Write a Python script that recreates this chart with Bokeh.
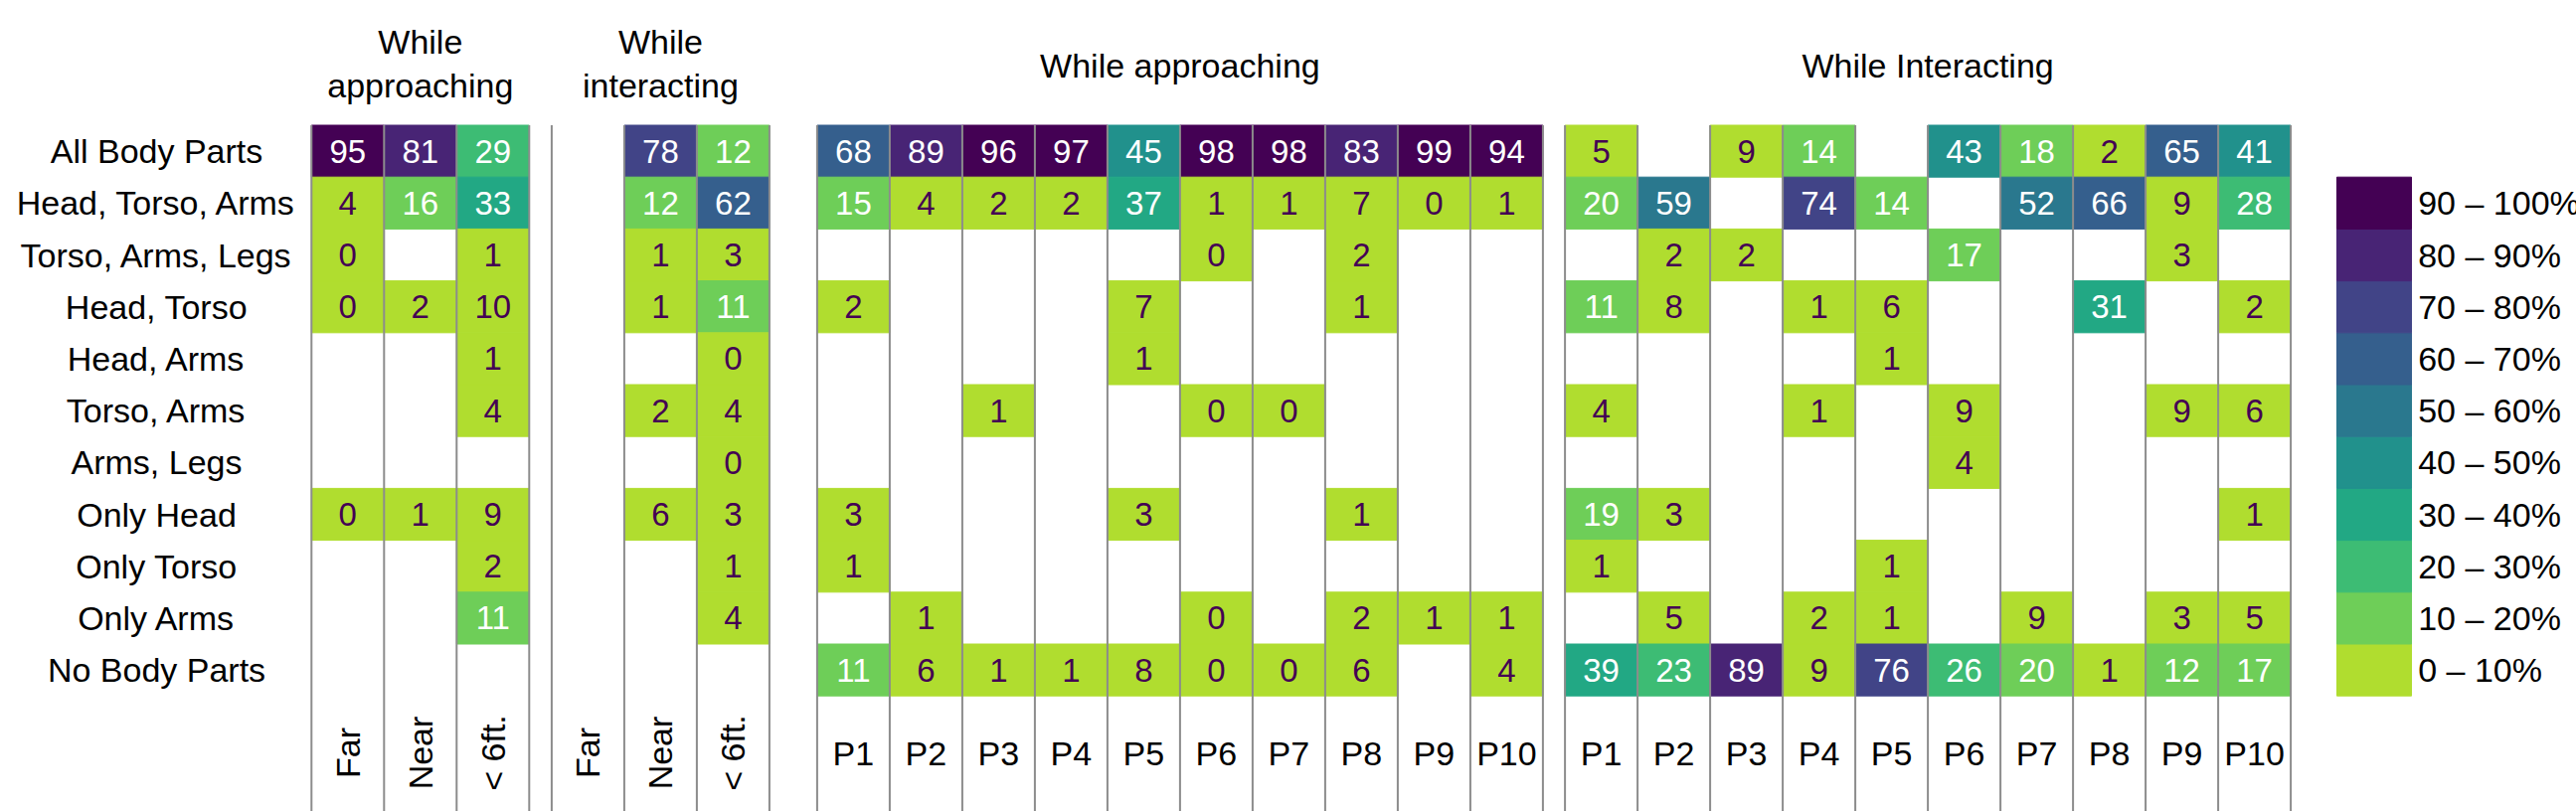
import math
from bokeh.plotting import figure
from bokeh.models import Range1d, ColumnDataSource
from bokeh.core.properties import value
from bokeh.embed import file_html
from bokeh.resources import INLINE

# ---------------- data ----------------
rows = ["All Body Parts", "Head, Torso, Arms", "Torso, Arms, Legs", "Head, Torso",
        "Head, Arms", "Torso, Arms", "Arms, Legs", "Only Head", "Only Torso",
        "Only Arms", "No Body Parts"]

dist_cols = ["Far", "Near", "< 6ft."]
part_cols = ["P1", "P2", "P3", "P4", "P5", "P6", "P7", "P8", "P9", "P10"]

N = None
# While approaching, by distance (Far, Near, < 6ft.)
appr_far = [95, 4, 0, 0, N, N, N, 0, N, N, N]
appr_near = [81, 16, N, 2, N, N, N, 1, N, N, N]
appr_close = [29, 33, 1, 10, 1, 4, N, 9, 2, 11, N]
# While interacting, by distance
inter_far = [N, N, N, N, N, N, N, N, N, N, N]
inter_near = [78, 12, 1, 1, N, 2, N, 6, N, N, N]
inter_close = [12, 62, 3, 11, 0, 4, 0, 3, 1, 4, N]

# While approaching, by participant (P1..P10)
appr_p = [
    [68, 15, N, 2, N, N, N, 3, 1, N, 11],
    [89, 4, N, N, N, N, N, N, N, 1, 6],
    [96, 2, N, N, N, 1, N, N, N, N, 1],
    [97, 2, N, N, N, N, N, N, N, N, 1],
    [45, 37, N, 7, 1, N, N, 3, N, N, 8],
    [98, 1, 0, N, N, 0, N, N, N, 0, 0],
    [98, 1, N, N, N, 0, N, N, N, N, 0],
    [83, 7, 2, 1, N, N, N, 1, N, 2, 6],
    [99, 0, N, N, N, N, N, N, N, 1, N],
    [94, 1, N, N, N, N, N, N, N, 1, 4],
]
# While interacting, by participant (P1..P10)
inter_p = [
    [5, 20, N, 11, N, 4, N, 19, 1, N, 39],
    [N, 59, 2, 8, N, N, N, 3, N, 5, 23],
    [9, N, 2, N, N, N, N, N, N, N, 89],
    [14, 74, N, 1, N, 1, N, N, N, 2, 9],
    [N, 14, N, 6, 1, N, N, N, 1, 1, 76],
    [43, N, 17, N, N, 9, 4, N, N, N, 26],
    [18, 52, N, N, N, N, N, N, N, 9, 20],
    [2, 66, N, 31, N, N, N, N, N, N, 1],
    [65, 9, 3, N, N, 9, N, N, N, 3, 12],
    [41, 28, N, 2, N, 6, N, 1, N, 5, 17],
]

legend_labels = ["0 – 10%", "10 – 20%", "20 – 30%", "30 – 40%", "40 – 50%",
                 "50 – 60%", "60 – 70%", "70 – 80%", "80 – 90%", "90 – 100%"]

# ---------------- styles / layout ----------------
palette = ["#b0dd2f", "#6ece58", "#3dbc74", "#22a884", "#21918c",
           "#2a788e", "#355f8d", "#414487", "#482475", "#440154"]
DARK = "#440154"
FONT = value("Liberation Sans")

W, H = 2591, 816
COL_W = 73.0
ROW_H = 52.2
GRID_TOP = 125.5
group_x0 = [312.8, 554.4, 821.4, 1573.6]
groups = [
    (dist_cols, [appr_far, appr_near, appr_close], ["While", "approaching"]),
    (dist_cols, [inter_far, inter_near, inter_close], ["While", "interacting"]),
    (part_cols, appr_p, ["While approaching"]),
    (part_cols, inter_p, ["While Interacting"]),
]

p = figure(width=W, height=H, x_range=Range1d(0, W), y_range=Range1d(H, 0),
           output_backend="svg", toolbar_location=None, min_border=0,
           x_axis_location=None, y_axis_location=None)
p.xgrid.visible = False
p.ygrid.visible = False
p.outline_line_color = None
p.background_fill_color = "white"
p.border_fill_color = "white"


def bin_of(v):
    return min(9, max(0, math.ceil(v / 10) - 1))


cx, cy, cc, ct, ctc = [], [], [], [], []
line_x = []
lab_x, lab_y, lab_t, lab_a = [], [], [], []
head_x, head_y, head_t = [], [], []
for g, (cols, data, title) in enumerate(groups):
    x0 = group_x0[g]
    for j, col in enumerate(cols):
        xc = x0 + (j + 0.5) * COL_W
        for i, v in enumerate(data[j]):
            if v is None:
                continue
            b = bin_of(v)
            cx.append(xc)
            cy.append(GRID_TOP + (i + 0.5) * ROW_H)
            cc.append(palette[b])
            ct.append(str(v))
            ctc.append(DARK if b == 0 else "white")
        lab_x.append(xc)
        lab_y.append(757)
        lab_t.append(col)
        lab_a.append(math.pi / 2 if len(cols) == 3 else 0.0)
    for j in range(len(cols) + 1):
        line_x.append(x0 + j * COL_W)
    gc = x0 + len(cols) * COL_W / 2
    if len(title) == 2:
        head_x += [gc, gc]
        head_y += [41.5, 85.5]
        head_t += title
    else:
        head_x.append(gc)
        head_y.append(65)
        head_t += title

cells = ColumnDataSource(dict(x=cx, y=cy, c=cc, t=ct, tc=ctc))
p.rect("x", "y", width=COL_W, height=ROW_H, source=cells,
       fill_color="c", line_color="c", line_width=1)
p.text("x", "y", text="t", source=cells, text_color="tc",
       text_align="center", text_baseline="middle",
       text_font=FONT, text_font_size="33px")

p.segment(x0=line_x, y0=[GRID_TOP] * len(line_x), x1=line_x, y1=[H] * len(line_x),
          line_color="#8c8c8c", line_width=2)

# row labels
p.text(x=[157] * len(rows), y=[GRID_TOP + (i + 0.5) * ROW_H for i in range(len(rows))],
       text=rows, text_align="center", text_baseline="middle",
       text_color="black", text_font=FONT, text_font_size="34px")

# column labels
p.text(x=lab_x, y=lab_y, text=lab_t, angle=lab_a,
       text_align="center", text_baseline="middle",
       text_color="black", text_font=FONT, text_font_size="34px")

# group headers
p.text(x=head_x, y=head_y, text=head_t, text_align="center",
       text_baseline="middle", text_color="black",
       text_font=FONT, text_font_size="34px")

# legend (aligned with rows 2..11, highest bin on top)
LEG_X = 2350
LEG_W = 75
leg_y = [GRID_TOP + (len(rows) - 1 - k + 0.5) * ROW_H for k in range(len(palette))]
p.rect(x=[LEG_X + LEG_W / 2] * len(palette), y=leg_y, width=LEG_W, height=ROW_H,
       fill_color=palette, line_color=palette, line_width=1)
p.text(x=[LEG_X + LEG_W + 6.7] * len(palette), y=leg_y, text=legend_labels,
       text_align="left", text_baseline="middle", text_color="black",
       text_font=FONT, text_font_size="34px")

open("out.html", "w").write(file_html(p, INLINE))
